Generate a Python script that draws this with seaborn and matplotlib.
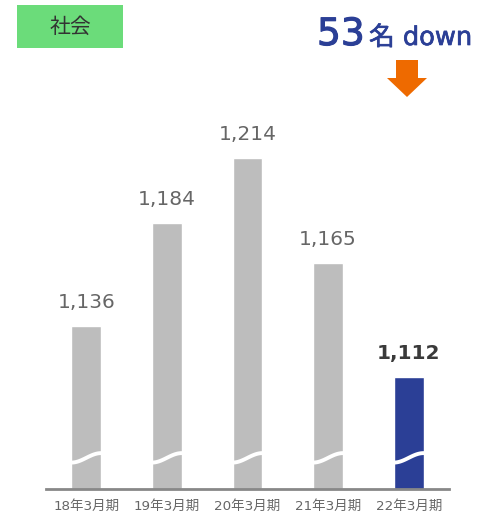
import numpy as np
import pandas as pd
import seaborn as sns
import matplotlib
matplotlib.use("Agg")
import matplotlib.pyplot as plt
import matplotlib.patheffects as pe
from matplotlib.patches import Rectangle, FancyArrow

categories = ["18年3月期", "19年3月期", "20年3月期", "21年3月期", "22年3月期"]
values = [1136, 1184, 1214, 1165, 1112]
label_texts = ["1,136", "1,184", "1,214", "1,165", "1,112"]
title_text = "社会"
diff_number = "53"
diff_unit = "名 down"

sns.set_theme(style="white")
plt.rcParams['font.family'] = ['DejaVu Sans', 'Noto Sans CJK JP']

fig = plt.figure(figsize=(4.79, 5.18), dpi=100)
ax = fig.add_axes([46/479, 29/518, 403/479, 389/518])

df = pd.DataFrame({"cat": categories, "val": values})
colors = ["#bdbdbd"] * 4 + ["#2b3f96"]
sns.barplot(data=df, x="cat", y="val", hue="cat", palette=colors, legend=False,
            width=0.37, ax=ax, saturation=1)

ax.set_xlim(-0.5, 4.5)
ax.set_ylim(1060, 1241)
for s in ["top", "right", "left"]:
    ax.spines[s].set_visible(False)
ax.spines["bottom"].set_color("#888888")
ax.spines["bottom"].set_linewidth(2)
ax.set_yticks([])
ax.set_xlabel("")
ax.set_ylabel("")
ax.tick_params(axis="x", length=0, pad=8, labelsize=9.7, labelcolor="#666666")

# wavy breaks and value labels
for i, p in enumerate(ax.patches):
    x0 = p.get_x()
    w = p.get_width()
    xs = np.linspace(x0 - 0.02, x0 + w + 0.02, 60)
    t = (xs - x0) / w
    ys = 1060 + 14.5 + 2.2 * np.sin((t - 0.5) * np.pi)
    ax.plot(xs, ys, color="white", lw=2.8, solid_capstyle="butt", zorder=5)
    last = i == len(ax.patches) - 1
    ax.annotate(label_texts[i], (x0 + w / 2, values[i]), xytext=(0, 10),
                textcoords="offset points", ha="center", va="bottom",
                fontsize=14.5, color="#3a3a3a" if last else "#666666",
                fontweight="bold" if last else "normal")

# title box
fig.patches.append(Rectangle((17/479, 1 - 48/518), 106/479, 43/518,
                             transform=fig.transFigure, facecolor="#6bdc7a",
                             edgecolor="none"))
fig.text(70/479, 1 - 27/518, title_text, ha="center", va="center",
         fontsize=15, color="#333333", family=['Noto Sans CJK JP', 'DejaVu Sans'])

# difference text
blue = "#2b3f96"
fig.text(317/479, 1 - 45/518, diff_number, ha="left", va="baseline",
         fontsize=27, color=blue,
         path_effects=[pe.withStroke(linewidth=0.8, foreground=blue)])
fig.text(369/479, 1 - 45/518, diff_unit, ha="left", va="baseline",
         fontsize=18.5, color=blue,
         path_effects=[pe.withStroke(linewidth=0.5, foreground=blue)])

# orange arrow
fig.patches.append(FancyArrow(407/479, 1 - 60/518, 0, -37/518, width=22/479,
                              head_width=40/479, head_length=19/518,
                              length_includes_head=True,
                              transform=fig.transFigure, color="#ee6a00", lw=0))

fig.savefig("out.png", dpi=100)
